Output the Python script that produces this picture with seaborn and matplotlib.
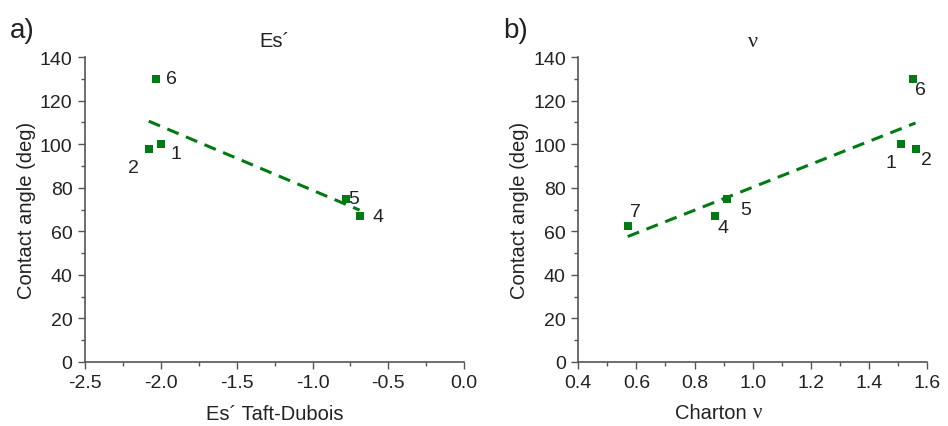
import numpy as np
import pandas as pd
import matplotlib
matplotlib.use("Agg")
import matplotlib.pyplot as plt
from matplotlib.ticker import AutoMinorLocator
import seaborn as sns

# ── data ──
es_ids   = ["1", "2", "4", "5", "6"]
es_x     = [-2.00, -2.08, -0.69, -0.78, -2.03]
es_angle = [100, 98, 67, 75, 130]

nu_ids   = ["1", "2", "4", "5", "6", "7"]
nu_x     = [1.51, 1.56, 0.87, 0.91, 1.55, 0.57]
nu_angle = [100, 98, 67, 75, 130, 62.5]

# label offsets (points) of each number from its marker
es_offsets = {"1": (7, -6.5), "2": (-15, -13.5), "4": (9, 0), "5": (1.5, 0), "6": (7, 0)}
nu_offsets = {"1": (-11, -13), "2": (4, -7.7), "4": (2, -8.4), "5": (10, -7.7), "6": (1.5, -7.7), "7": (2, 10)}

sns.set_style("ticks")
plt.rcParams["font.family"] = ["Liberation Sans", "DejaVu Sans"]
GREEN = "#007a12"
TXT = "#222222"
AX = "#555555"
FS = 14

fig = plt.figure(figsize=(9.48, 4.27), dpi=100)
ax1 = fig.add_axes([0.0897, 0.150, 0.400, 0.714])
ax2 = fig.add_axes([0.610, 0.150, 0.368, 0.714])

panels = [
    (ax1, pd.DataFrame({"x": es_x, "y": es_angle, "id": es_ids}), es_offsets,
     (-2.5, 0.0), np.arange(-2.5, 0.01, 0.5), "Es´", "Es´ Taft-Dubois"),
    (ax2, pd.DataFrame({"x": nu_x, "y": nu_angle, "id": nu_ids}), nu_offsets,
     (0.4, 1.6), np.arange(0.4, 1.61, 0.2), "ν", ""),
]

for ax, df, offs, xlim, xt, title, xlabel in panels:
    sns.regplot(data=df, x="x", y="y", ax=ax, ci=None, truncate=True,
                marker="s", color=GREEN,
                scatter_kws={"s": 34, "linewidths": 0, "alpha": 1, "zorder": 3},
                line_kws={"ls": (0, (4, 2.6)), "lw": 2.2, "zorder": 2})
    for _, r in df.iterrows():
        dx, dy = offs[r["id"]]
        ax.annotate(r["id"], (r["x"], r["y"]), xytext=(dx, dy), textcoords="offset points",
                    fontsize=FS, color=TXT, ha="left", va="center")
    ax.set_xlim(*xlim)
    ax.set_ylim(0, 140)
    ax.set_xticks(xt)
    ax.set_xticklabels([f"{v:.1f}" for v in xt])
    ax.set_yticks(np.arange(0, 141, 20))
    ax.xaxis.set_minor_locator(AutoMinorLocator(2))
    ax.yaxis.set_minor_locator(AutoMinorLocator(2))
    ax.tick_params(which="major", direction="out", length=5, width=1, colors=AX,
                   labelcolor=TXT, labelsize=14, pad=4)
    ax.tick_params(which="minor", direction="out", length=3, width=1, colors=AX)
    sns.despine(ax=ax)
    for s in ["left", "bottom"]:
        ax.spines[s].set_color(AX)
        ax.spines[s].set_linewidth(1.2)
    ax.set_ylabel("Contact angle (deg)", fontsize=14.5, color=TXT, labelpad=3)
    ax.set_xlabel(xlabel, fontsize=14.5, color=TXT, labelpad=9)
    if title == "ν":
        ax.set_title(title, fontsize=16, color=TXT, pad=8,
                     family=["Liberation Serif", "DejaVu Serif"])
    else:
        ax.set_title(title, fontsize=14.5, color=TXT, pad=8)

# Charton label, with the nu in serif like the original
ax2.text(0.5, -0.165, "Charton ", transform=ax2.transAxes, ha="right", va="center",
         fontsize=14.5, color=TXT)
ax2.text(0.5, -0.165, "ν", transform=ax2.transAxes, ha="left", va="center",
         fontsize=15, color=TXT, family=["Liberation Serif", "DejaVu Serif"])

fig.text(0.010, 0.912, "a)", fontsize=20, color=TXT)
fig.text(0.531, 0.912, "b)", fontsize=20, color=TXT)

fig.savefig("out.png", dpi=100)
